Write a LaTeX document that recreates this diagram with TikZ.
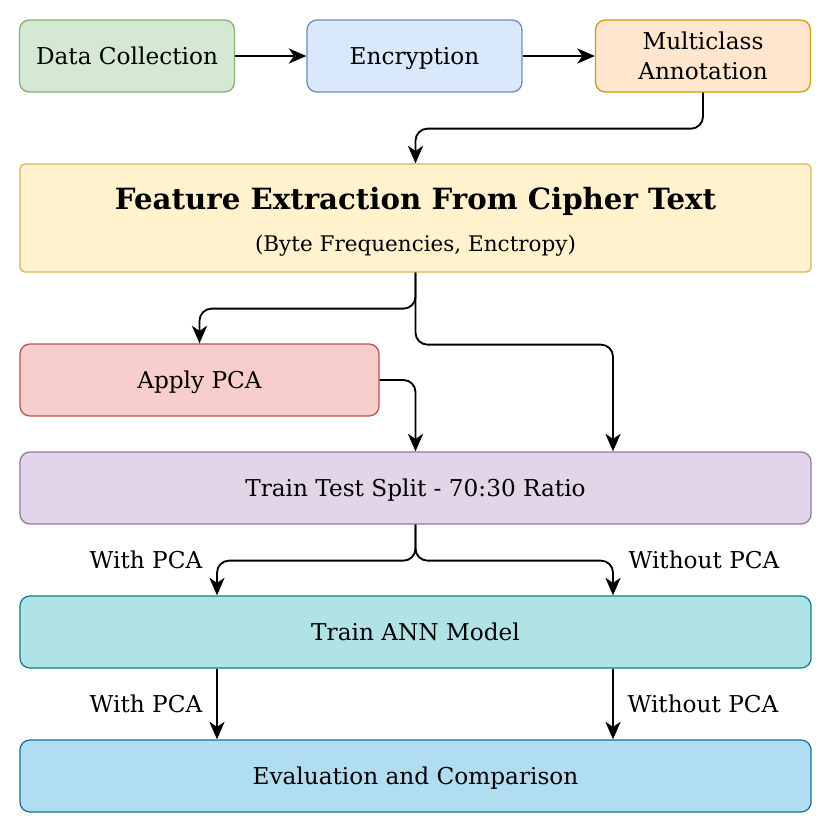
\documentclass[tikz,border=0pt]{standalone}
\usepackage{fontspec}
\setmainfont{DejaVu Serif}
\usetikzlibrary{arrows.meta}

\definecolor{greenfill}{HTML}{D5E8D4}\definecolor{greenline}{HTML}{82B366}
\definecolor{bluefill}{HTML}{DAE8FC}\definecolor{blueline}{HTML}{6C8EBF}
\definecolor{orangefill}{HTML}{FFE6CC}\definecolor{orangeline}{HTML}{D79B00}
\definecolor{yellowfill}{HTML}{FFF2CC}\definecolor{yellowline}{HTML}{D6B656}
\definecolor{redfill}{HTML}{F8CECC}\definecolor{redline}{HTML}{B85450}
\definecolor{purplefill}{HTML}{E1D5E7}\definecolor{purpleline}{HTML}{9673A6}
\definecolor{tealfill}{HTML}{B0E3E6}\definecolor{tealline}{HTML}{0E8088}
\definecolor{skyfill}{HTML}{B1DDF0}\definecolor{skyline}{HTML}{10739E}

\begin{document}
\begin{tikzpicture}[x=0.025cm, y=-0.025cm,
  box/.style={rounded corners=0.25cm, line width=0.9pt, align=center, inner sep=0pt,
    minimum height=1.8cm, font=\fontsize{16.5}{21}\selectfont},
  oneline/.style={text height=12pt, text depth=0pt},
  arr/.style={-{Stealth[length=0.44cm, width=0.38cm, inset=0.13cm]}, line width=1.3pt, rounded corners=0.3cm},
  lbl/.style={font=\fontsize{16.5}{20}\selectfont}]

  % Parameters
  \def\small{5.375cm}
  \def\wide{19.775cm}

  \useasboundingbox (0,0) rectangle (828,830);

  % Branch columns
  \coordinate (L) at (217,0);
  \coordinate (R) at (613,0);

  % Top row
  \node[box, oneline, fill=greenfill, draw=greenline, minimum width=\small] (collect) at (127,56) {Data Collection};
  \node[box, oneline, fill=bluefill, draw=blueline, minimum width=\small] (encrypt) at (414.5,56) {Encryption};
  \node[box, fill=orangefill, draw=orangeline, minimum width=\small] (annotate) at (703,56) {Multiclass\\Annotation};

  % Feature extraction
  \node[box, rounded corners=0.12cm, fill=yellowfill, draw=yellowline, minimum width=\wide, minimum height=2.7cm] (features) at (415.5,218) {};
  \node[font=\fontsize{20.8}{24}\selectfont\bfseries] (ftitle) at (415.5,201) {Feature Extraction From Cipher Text};
  \node[font=\fontsize{15.3}{18}\selectfont] (fsub) at (415.5,246) {(Byte Frequencies, Enctropy)};

  % PCA, split, model, evaluation
  \node[box, oneline, fill=redfill, draw=redline, minimum width=8.975cm] (pca) at (199.5,380) {Apply PCA};
  \node[box, oneline, fill=purplefill, draw=purpleline, minimum width=\wide] (split) at (415.5,488) {Train Test Split - 70:30 Ratio};
  \node[box, oneline, fill=tealfill, draw=tealline, minimum width=\wide] (ann) at (415.5,632) {Train ANN Model};
  \node[box, oneline, fill=skyfill, draw=skyline, minimum width=\wide] (eval) at (415.5,776) {Evaluation and Comparison};

  % Connectors
  \draw[arr] (collect) -- (encrypt);
  \draw[arr] (encrypt) -- (annotate);
  \draw[arr] (annotate.south) -- ++(0,36) -| (features.north);
  \draw[arr] (features.south) -- ++(0,36) -| (pca.north);
  \draw[arr] (features.south) -- ++(0,72) -| (split.north -| R);
  \draw[arr] (pca.east) -| (split.north);
  \draw[arr] (split.south) -- ++(0,36) -| (ann.north -| L);
  \draw[arr] (split.south) -- ++(0,36) -| (ann.north -| R);
  \draw[arr] (ann.south -| L) -- (eval.north -| L);
  \draw[arr] (ann.south -| R) -- (eval.north -| R);

  % Branch labels
  \node[lbl, oneline] (withA) at (146,560) {With PCA};
  \node[lbl, oneline] (withoutA) at (704,560) {Without PCA};
  \node[lbl, oneline] (withB) at (146,704) {With PCA};
  \node[lbl, oneline] (withoutB) at (703,704) {Without PCA};
\end{tikzpicture}
\end{document}
